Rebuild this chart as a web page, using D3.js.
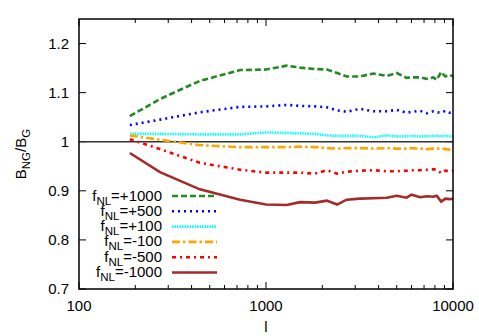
<!DOCTYPE html>
<html><head><meta charset="utf-8">
<script src="https://cdn.jsdelivr.net/npm/d3@7"></script>
<style>body{margin:0;background:#fff}svg{display:block}text{font-family:"Liberation Sans",Arial,sans-serif;fill:#000}</style>
</head><body><svg id="c" width="479" height="336"></svg>
<script>
const ells = [187,271,443,727,1000,1291,1520,1830,2115,2400,2700,3180,3750,4420,5000,5650,6000,6670,7230,7850,8180,8650,9100,9600,10000];
const fp1000 = [1.052,1.087,1.124,1.146,1.147,1.155,1.151,1.148,1.147,1.140,1.133,1.133,1.139,1.134,1.140,1.130,1.131,1.131,1.128,1.131,1.126,1.142,1.133,1.136,1.133];
const fp500  = [1.034,1.045,1.060,1.071,1.072,1.075,1.073,1.072,1.070,1.064,1.061,1.067,1.062,1.062,1.065,1.059,1.061,1.063,1.058,1.062,1.060,1.059,1.063,1.059,1.060];
const fp100  = [1.016,1.016,1.015,1.015,1.019,1.018,1.017,1.016,1.013,1.012,1.012,1.012,1.009,1.013,1.011,1.011,1.012,1.011,1.011,1.012,1.012,1.011,1.012,1.011,1.011];
const fm100  = [1.013,1.004,0.993,0.989,0.989,0.989,0.990,0.989,0.987,0.986,0.987,0.987,0.986,0.987,0.986,0.986,0.987,0.986,0.985,0.986,0.986,0.986,0.985,0.984,0.985];
const fm500  = [1.005,0.985,0.957,0.943,0.937,0.937,0.937,0.935,0.942,0.935,0.939,0.941,0.942,0.940,0.940,0.941,0.942,0.942,0.943,0.944,0.943,0.936,0.941,0.940,0.941];
const fm1000 = [0.977,0.938,0.903,0.882,0.872,0.871,0.877,0.876,0.880,0.872,0.882,0.884,0.885,0.886,0.890,0.886,0.892,0.887,0.889,0.888,0.890,0.878,0.884,0.883,0.884];
const seriesLabels = ["+1000","+500","+100","-100","-500","-1000"];
const xTicks = [100,1000,10000];
const yTicks = [0.7,0.8,0.9,1.0,1.1,1.2];

const series = [
  {lab:seriesLabels[0], v:fp1000, c:"#228b22", d:"6,3"},
  {lab:seriesLabels[1], v:fp500,  c:"#0000ff", d:"2,4"},
  {lab:seriesLabels[2], v:fp100,  c:"#00ffff", d:"1.5,1"},
  {lab:seriesLabels[3], v:fm100,  c:"#ffa500", d:"8,3,2.5,3"},
  {lab:seriesLabels[4], v:fm500,  c:"#ff0000", d:"4,4,2,4"},
  {lab:seriesLabels[5], v:fm1000, c:"#a52a2a", d:null}
];

const L=79, R=453, T=19, B=289;
const FS=15, SFS=11.5;
const svg = d3.select("#c");
const x = d3.scaleLog().domain([100,10000]).range([L,R]);
const y = d3.scaleLinear().domain([0.7,1.25]).range([B,T]);

const minor = [];
for (let d=100; d<10000; d*=10) for (let k=2;k<10;k++) minor.push(d*k);
const g = svg.append("g");
minor.forEach(m=>{
  g.append("line").attr("x1",x(m)).attr("x2",x(m)).attr("y1",B).attr("y2",B-4).attr("stroke","#000").attr("stroke-width",1);
  g.append("line").attr("x1",x(m)).attr("x2",x(m)).attr("y1",T).attr("y2",T+4).attr("stroke","#000").attr("stroke-width",1);
});
xTicks.forEach(t=>{
  g.append("line").attr("x1",x(t)).attr("x2",x(t)).attr("y1",B).attr("y2",B-7).attr("stroke","#000").attr("stroke-width",1);
  g.append("line").attr("x1",x(t)).attr("x2",x(t)).attr("y1",T).attr("y2",T+7).attr("stroke","#000").attr("stroke-width",1);
  g.append("text").attr("x",x(t)).attr("y",B+22).attr("text-anchor","middle").attr("font-size",FS).text(t);
});
yTicks.forEach(t=>{
  g.append("line").attr("x1",L).attr("x2",L+7).attr("y1",y(t)).attr("y2",y(t)).attr("stroke","#000").attr("stroke-width",1);
  g.append("line").attr("x1",R).attr("x2",R-7).attr("y1",y(t)).attr("y2",y(t)).attr("stroke","#000").attr("stroke-width",1);
  g.append("text").attr("x",L-10).attr("y",y(t)+5).attr("text-anchor","end").attr("font-size",FS).text(d3.format("")(+t.toFixed(1)));
});

svg.append("line").attr("x1",L).attr("x2",R).attr("y1",y(1)).attr("y2",y(1)).attr("stroke","#333").attr("stroke-width",1.5);

const line = d3.line().x((d,i)=>x(ells[i])).y(d=>y(d));
series.forEach(s=>{
  svg.append("path").attr("d",line(s.v)).attr("fill","none").attr("stroke",s.c)
    .attr("stroke-width",2.6).attr("stroke-dasharray",s.d);
});

const lg = svg.append("g");
series.forEach((s,i)=>{
  const yy = 196 + i*15.3;
  const t = lg.append("text").attr("x",162).attr("y",yy+4.5).attr("text-anchor","end").attr("font-size",FS);
  t.append("tspan").text("f");
  t.append("tspan").attr("dy",4).attr("font-size",SFS).text("NL");
  t.append("tspan").attr("dy",-4).text("="+s.lab);
  lg.append("line").attr("x1",172).attr("x2",217).attr("y1",yy).attr("y2",yy).attr("stroke",s.c).attr("stroke-width",2.6).attr("stroke-dasharray",s.d);
});

svg.append("rect").attr("x",L).attr("y",T).attr("width",R-L).attr("height",B-T).attr("fill","none").attr("stroke","#000").attr("stroke-width",1.5);

svg.append("text").attr("x",266).attr("y",332).attr("text-anchor","middle").attr("font-size",FS).text("l");
const yl = svg.append("text").attr("transform","translate(26,154) rotate(-90)").attr("text-anchor","middle").attr("font-size",FS);
yl.append("tspan").text("B");
yl.append("tspan").attr("dy",4).attr("font-size",SFS).text("NG");
yl.append("tspan").attr("dy",-4).text("/B");
yl.append("tspan").attr("dy",4).attr("font-size",SFS).text("G");
</script></body></html>
